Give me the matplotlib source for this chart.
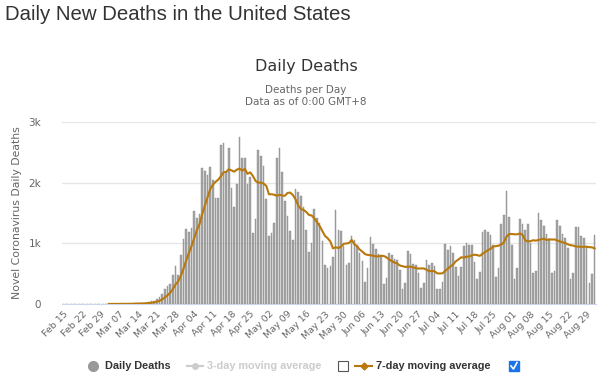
import numpy as np
import pandas as pd
import matplotlib
matplotlib.use('Agg')
import matplotlib.pyplot as plt
from matplotlib.lines import Line2D
from matplotlib.patches import Rectangle

nan = np.nan
# daily deaths, one value per day from Feb 15 2020 (no data before Feb 26)
deaths = [
    nan, nan, nan, nan, nan, nan, nan,
    nan, nan, nan, nan, 0, 0, 0,
    1, 1, 5, 1, 4, 1, 2,
    3, 4, 4, 5, 7, 7, 10,
    9, 10, 18, 23, 31, 48, 57,
    75, 120, 165, 250, 290, 330, 470,
    620, 480, 800, 1070, 1240, 1190, 1260,
    1540, 1420, 1480, 2240, 2190, 2130, 2255,
    2050, 1740, 1740, 2615, 2660, 2180, 2565,
    1916, 1592, 1972, 2749, 2402, 2402, 1983,
    2095, 1173, 1397, 2531, 2441, 2274, 1732,
    1117, 1173, 1341, 2402, 2570, 2179, 1704,
    1453, 1201, 1061, 1899, 1850, 1785, 1600,
    1222, 861, 1000, 1572, 1416, 1330, 1039,
    640, 600, 620, 775, 1555, 1222, 1210,
    960, 642, 681, 1128, 1061, 978, 838,
    709, 363, 587, 1100, 994, 911, 827,
    793, 335, 430, 849, 810, 743, 726,
    559, 251, 346, 866, 821, 654, 648,
    503, 268, 346, 726, 642, 681, 625,
    251, 251, 363, 994, 894, 961, 849,
    615, 464, 615, 950, 1005, 980, 980,
    700, 408, 530, 1184, 1212, 1190, 1145,
    966, 447, 587, 1313, 1464, 1855, 1436,
    978, 408, 587, 1408, 1313, 1218, 1313,
    1005, 514, 542, 1492, 1385, 1285, 1162,
    1073, 503, 547, 1385, 1285, 1162, 1080,
    920, 408, 503, 1274, 1274, 1128, 1089,
    939, 346, 492, 1145,
]
start_date = '2020-02-15'
yticks = [0, 1000, 2000, 3000]
ytick_labels = ['0', '1k', '2k', '3k']

df = pd.DataFrame({'deaths': deaths})
df['date'] = pd.date_range(start_date, periods=len(df))
df['avg7'] = df['deaths'].rolling(7).mean()
x = np.arange(len(df))

grey_txt = '#666666'
dark_txt = '#333333'
line_col = '#b8780c'

fig = plt.figure(figsize=(6, 3.77), dpi=100)
ax = fig.add_axes([0.1033, 0.1936, 0.89, 0.4828])

ax.bar(x, df['deaths'].fillna(0), width=0.6, color='#a4a4a4',
       edgecolor='#8c8c8c', linewidth=0.3, zorder=2)
ax.plot(x, df['avg7'], color=line_col, lw=1.5, zorder=3)

ax.set_xlim(-0.5, len(df) - 0.5)
ax.set_ylim(0, 3000)
ax.set_yticks(yticks)
ax.set_yticklabels(ytick_labels)
ax.yaxis.grid(True, color='#e6e6e6', lw=1, zorder=0)
ax.tick_params(axis='y', length=0, pad=15, labelsize=7.5, labelcolor=grey_txt)

tick_pos = x[::7]
ax.set_xticks(tick_pos)
ax.set_xticklabels(df['date'].dt.strftime('%b %d')[::7], rotation=45,
                   ha='right', va='top', rotation_mode='anchor')
ax.tick_params(axis='x', length=0, pad=4, labelsize=6.8, labelcolor=grey_txt)

for s in ['top', 'right', 'left']:
    ax.spines[s].set_visible(False)
ax.spines['bottom'].set_color('#ccd6eb')

ax.set_ylabel('Novel Coronavirus Daily Deaths', fontsize=7.8, color=grey_txt)
ax.yaxis.set_label_coords(-0.075, 0.5)

# titles
fig.text(5 / 600, 1 - 15 / 377, 'Daily New Deaths in the United States',
         fontsize=14.7, color=dark_txt, family='Liberation Sans', va='center')
fig.text(306 / 600, 1 - 67 / 377, 'Daily Deaths', fontsize=11.5,
         color=dark_txt, ha='center', va='center')
fig.text(306 / 600, 1 - 90 / 377, 'Deaths per Day', fontsize=7.5,
         color=grey_txt, ha='center', va='center')
fig.text(306 / 600, 1 - 102 / 377, 'Data as of 0:00 GMT+8', fontsize=7.5,
         color=grey_txt, ha='center', va='center')

# legend
ly = 1 - 366 / 377
def fx(px):
    return px / 600

leg_font = dict(fontsize=7.8, weight='bold', va='center', family='Liberation Sans')
fig.add_artist(Line2D([fx(93)], [ly], marker='o', ms=7, color='#999999',
                      transform=fig.transFigure))
fig.text(fx(105), ly, 'Daily Deaths', color=dark_txt, **leg_font)
fig.add_artist(Line2D([fx(187), fx(203)], [ly, ly], color='#cccccc', lw=1.5,
                      transform=fig.transFigure))
fig.add_artist(Line2D([fx(195)], [ly], marker='o', ms=4, color='#cccccc',
                      transform=fig.transFigure))
fig.text(fx(207), ly, '3-day moving average', color='#cccccc', **leg_font)
fig.add_artist(Rectangle((fx(338), 1 - 371 / 377), fx(10), 10 / 377,
                         fill=False, edgecolor='#555555', lw=0.8,
                         transform=fig.transFigure))
fig.add_artist(Line2D([fx(355), fx(372)], [ly, ly], color=line_col, lw=1.5,
                      transform=fig.transFigure))
fig.add_artist(Line2D([fx(363.5)], [ly], marker='D', ms=3.5, color=line_col,
                      transform=fig.transFigure))
fig.text(fx(376), ly, '7-day moving average', color=dark_txt, **leg_font)
fig.add_artist(Rectangle((fx(509), 1 - 371 / 377), fx(10), 10 / 377,
                         color='#1a73e8', transform=fig.transFigure))
fig.add_artist(Line2D([fx(511), fx(513.5), fx(517)],
                      [1 - 366 / 377, 1 - 369 / 377, 1 - 362.5 / 377],
                      color='white', lw=1.2, transform=fig.transFigure))

fig.savefig('out.png', dpi=100)
